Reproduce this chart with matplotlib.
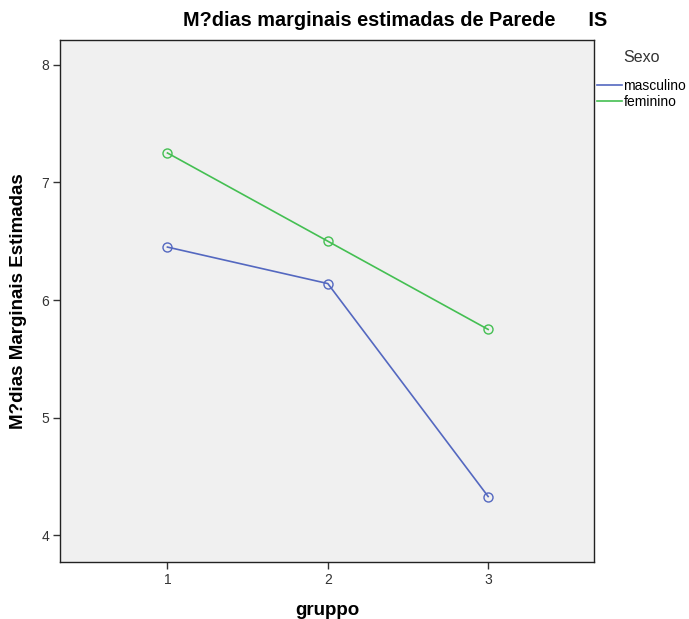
import matplotlib
matplotlib.use('Agg')
import matplotlib.pyplot as plt
from matplotlib.lines import Line2D

plt.rcParams['font.family'] = ['Liberation Sans', 'DejaVu Sans']

gruppo = [1, 2, 3]
masculino = [6.45, 6.14, 4.33]
feminino = [7.25, 6.50, 5.75]
sexo_labels = ['masculino', 'feminino']
x_ticks = [1, 2, 3]
y_ticks = [4, 5, 6, 7, 8]

blue = '#5468c0'
green = '#44bf52'

fig = plt.figure(figsize=(6.89, 6.19), dpi=100)
ax = fig.add_axes([60 / 689, 57.3 / 619, 534 / 689, 521.7 / 619])
ax.set_facecolor('#f0f0f0')

ax.plot(gruppo, masculino, color=blue, lw=1.2, marker='o', ms=6.5,
        mfc='none', mec=blue, mew=1.0)
ax.plot(gruppo, feminino, color=green, lw=1.2, marker='o', ms=6.5,
        mfc='none', mec=green, mew=1.0)

ax.set_xlim(0.33, 3.66)
ax.set_ylim(3.776, 8.21)
ax.set_xticks(x_ticks)
ax.set_yticks(y_ticks)
ax.tick_params(direction='out', length=5, width=1, labelsize=10,
               labelcolor='#333333', color='#333333', pad=3)
for s in ax.spines.values():
    s.set_color('#222222')
    s.set_linewidth(1.0)

ax.set_xlabel('gruppo', fontsize=13.5, fontweight='bold', labelpad=11)
ax.set_ylabel('M?dias Marginais Estimadas', fontsize=13.5, fontweight='bold',
              labelpad=10)

fig.text(183 / 689, 1 - 21 / 619, 'M?dias marginais estimadas de Parede      IS',
         fontsize=14.3, fontweight='bold', ha='left', va='center')

handles = [Line2D([], [], color=blue, lw=1.2), Line2D([], [], color=green, lw=1.2)]
leg = ax.legend(handles, sexo_labels, title='Sexo', loc='upper left',
                bbox_to_anchor=(1.005, 0.98), frameon=False, fontsize=10,
                title_fontsize=11.5, handlelength=1.8, handletextpad=0.12,
                borderaxespad=0, borderpad=0, labelspacing=0.12)
leg._legend_box.sep = 10
leg.get_title().set_color('#333333')

fig.savefig('out.png', dpi=100)
